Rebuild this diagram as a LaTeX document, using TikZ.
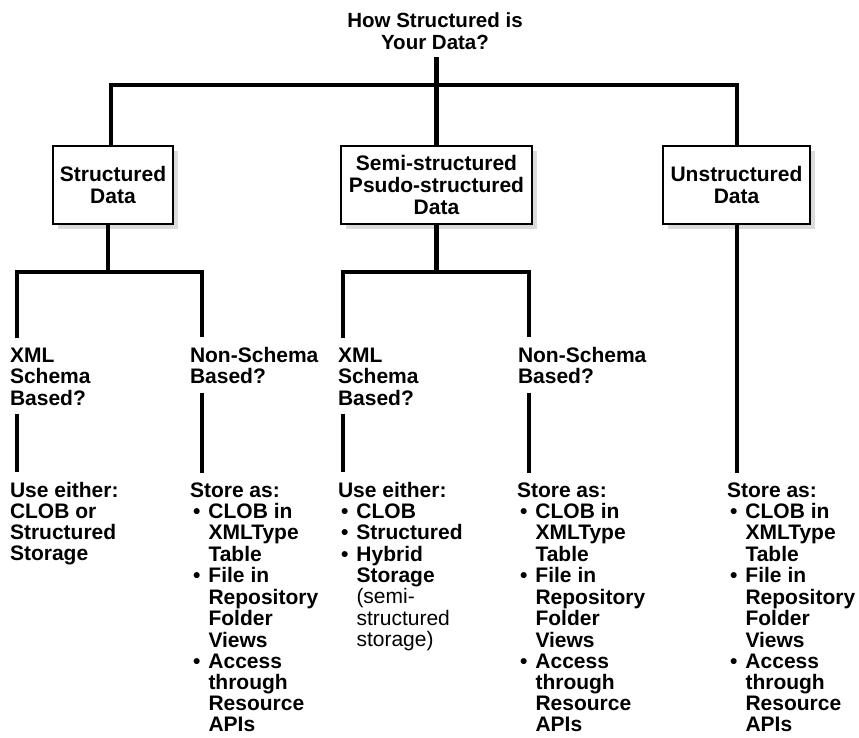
\documentclass[tikz,border=0pt]{standalone}
\usepackage{fontspec}
\setmainfont{Liberation Sans}
\usetikzlibrary{shadows}
\newcommand\bul{\makebox[18.5pt][l]{\hspace{3pt}\textbullet}}
\newcommand\ind{\hspace*{18.5pt}}
\begin{document}
\begin{tikzpicture}[x=1pt,y=-1pt,
  conn/.style={line width=4.5pt, line join=miter, line cap=butt},
  catbox/.style={draw, line width=2pt, fill=white, minimum height=78pt,
    align=center, inner sep=0pt, font=\bfseries\fontsize{21}{22}\selectfont,
    drop shadow={fill=black!14, opacity=1, shadow xshift=5pt, shadow yshift=-5pt}},
  txt/.style={anchor=base west, inner sep=0pt, outer sep=0pt,
    font=\bfseries\fontsize{21}{21}\selectfont}
]
\useasboundingbox (0,0) rectangle (859,737);

\node[inner sep=0pt, align=center, font=\bfseries\fontsize{20.5}{22.7}\selectfont]
  (title) at (435,31.2) {How Structured is\\Your Data?};

\node[catbox, minimum width=120pt] (b1) at (113,185) {Structured\\Data};
\node[catbox, minimum width=191pt] (b2) at (436.5,185) {Semi-structured\\Psudo-structured\\Data};
\node[catbox, minimum width=147pt] (b3) at (736.5,185) {Unstructured\\Data};

\node[txt] (q1) at (10,362) {\begin{tabular}[t]{@{}l@{}}XML\\Schema\\Based?\end{tabular}};
\node[txt] (q2) at (190,362) {\begin{tabular}[t]{@{}l@{}}Non-Schema\\Based?\end{tabular}};
\node[txt] (q3) at (338,362) {\begin{tabular}[t]{@{}l@{}}XML\\Schema\\Based?\end{tabular}};
\node[txt] (q4) at (518,362) {\begin{tabular}[t]{@{}l@{}}Non-Schema\\Based?\end{tabular}};

\node[txt] (a1) at (10,497) {\begin{tabular}[t]{@{}l@{}}Use either:\\CLOB or\\Structured\\Storage\end{tabular}};
\node[txt] (a2) at (190,497) {\begin{tabular}[t]{@{}l@{}}Store as:\\\bul CLOB in\\\ind XMLType\\\ind Table\\\bul File in\\\ind Repository\\\ind Folder\\\ind Views\\\bul Access\\\ind through\\\ind Resource\\\ind APIs\end{tabular}};
\node[txt] (a3) at (338,497) {\begin{tabular}[t]{@{}l@{}}Use either:\\\bul CLOB\\\bul Structured\\\bul Hybrid\\\ind Storage\\\ind{\mdseries (semi-}\\\ind{\mdseries structured}\\\ind{\mdseries storage)}\end{tabular}};
\node[txt] (a4) at (517,497) {\begin{tabular}[t]{@{}l@{}}Store as:\\\bul CLOB in\\\ind XMLType\\\ind Table\\\bul File in\\\ind Repository\\\ind Folder\\\ind Views\\\bul Access\\\ind through\\\ind Resource\\\ind APIs\end{tabular}};
\node[txt] (a5) at (727,497) {\begin{tabular}[t]{@{}l@{}}Store as:\\\bul CLOB in\\\ind XMLType\\\ind Table\\\bul File in\\\ind Repository\\\ind Folder\\\ind Views\\\bul Access\\\ind through\\\ind Resource\\\ind APIs\end{tabular}};

% junction coordinates
\coordinate (k1) at (111,85);
\coordinate (k3) at (737,85);
\coordinate (c1) at (108,272);
\coordinate (d1) at (17,272);
\coordinate (d2) at (202,272);
\coordinate (d3) at (343,272);
\coordinate (d4) at (529,272);

% top level
\draw[conn, shorten <=7pt] (title.south -| b2.north) -- (b2.north);
\draw[conn] (b1.north -| k1) -- (k1) -- (k3) -- (b3.north -| k3);

% structured branch
\draw[conn] (b1.south -| c1) -- (c1);
\draw[conn, shorten <=9.3pt, shorten >=9.3pt] (q1.north -| d1) -- (d1) -- (d2) -- (q2.north -| d2);
\draw[conn, shorten <=2.7pt, shorten >=9.3pt] (q1.south -| d1) -- (a1.north -| d1);
\draw[conn, shorten <=2.7pt, shorten >=9.3pt] (q2.south -| d2) -- (a2.north -| d2);

% semi-structured branch
\draw[conn] (b2.south) -- (b2.south |- d3);
\draw[conn, shorten <=9.3pt, shorten >=9.3pt] (q3.north -| d3) -- (d3) -- (d4) -- (q4.north -| d4);
\draw[conn, shorten <=2.7pt, shorten >=9.3pt] (q3.south -| d3) -- (a3.north -| d3);
\draw[conn, shorten <=2.7pt, shorten >=9.3pt] (q4.south -| d4) -- (a4.north -| d4);

% unstructured branch
\draw[conn, shorten >=9.3pt] (b3.south -| k3) -- (a5.north -| k3);
\end{tikzpicture}
\end{document}
